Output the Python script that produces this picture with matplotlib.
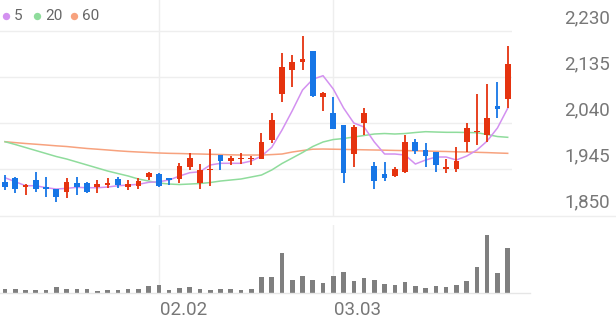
import numpy as np
import matplotlib.pyplot as plt
from matplotlib.lines import Line2D

# daily candles (open, high, low, close)
opens = [1919, 1927, 1908, 1922, 1907, 1904, 1898, 1917, 1917, 1908,
         1913, 1924, 1908, 1910, 1928, 1935, 1926, 1924, 1950, 1916,
         1943, 1974, 1962, 1965, 1965, 1965, 2005, 2100, 2150, 2165,
         2189, 2094, 2061, 2036, 1977, 2039, 1951, 1935, 1931, 1938,
         2001, 1984, 1980, 1946, 1945, 2000, 2021, 2015, 2076, 2089]
highs = [1933, 1929, 1915, 1939, 1929, 1904, 1926, 1929, 1919, 1922,
         1926, 1929, 1922, 1926, 1939, 1936, 1926, 1958, 1979, 1955,
         1986, 1974, 1972, 1979, 1972, 2020, 2060, 2184, 2180, 2220,
         2189, 2105, 2094, 2036, 2036, 2070, 1960, 1960, 1950, 2015,
         2006, 1998, 1980, 1965, 1990, 2039, 2100, 2120, 2124, 2199]
lows = [1902, 1895, 1891, 1898, 1888, 1877, 1885, 1891, 1895, 1895,
        1905, 1905, 1902, 1904, 1922, 1908, 1913, 1917, 1943, 1903,
        1910, 1943, 1953, 1955, 1953, 1965, 1999, 2084, 2115, 2150,
        2094, 2065, 2027, 1916, 1949, 2015, 1903, 1921, 1929, 1936,
        1976, 1949, 1939, 1936, 1939, 1981, 1995, 2001, 2050, 2070]
closes = [1908, 1904, 1912, 1904, 1904, 1888, 1919, 1908, 1898, 1914,
          1916, 1912, 1914, 1921, 1937, 1910, 1922, 1951, 1968, 1944,
          1946, 1962, 1967, 1967, 1968, 2001, 2046, 2155, 2165, 2172,
          2096, 2101, 2027, 1936, 2031, 2061, 1921, 1926, 1945, 2001,
          1982, 1972, 1953, 1950, 1962, 2030, 2024, 2051, 2069, 2161]

# moving averages
ma5 = [1927.0, 1918.8, 1910.5, 1910.5, 1906.4, 1903.7, 1905.1, 1907.2, 1906.4, 1906.4,
       1907.8, 1910.5, 1911.9, 1913.4, 1917.5, 1918.8, 1922.3, 1930.5, 1937.4, 1939.4,
       1953.3, 1956.8, 1956.8, 1956.8, 1961.5, 1971.8, 1989.8, 2025.5, 2065.4, 2108.1,
       2130.3, 2137.7, 2110.2, 2071.0, 2040.0, 2031.7, 2000.8, 1976.0, 1976.0, 1973.9,
       1955.3, 1963.6, 1969.8, 1969.8, 1963.6, 1971.8, 1984.2, 2002.8, 2029.7, 2070.4]
ma20 = [2001.4, 1995.6, 1989.4, 1983.2, 1977.0, 1970.8, 1965.7, 1959.5, 1953.3, 1947.1,
        1940.9, 1935.7, 1930.6, 1924.4, 1920.2, 1916.1, 1914.0, 1913.0, 1914.0, 1915.1,
        1917.1, 1920.2, 1922.3, 1924.4, 1928.5, 1932.6, 1943.0, 1956.4, 1967.7, 1979.1,
        1991.5, 2000.8, 2005.9, 2008.0, 2011.1, 2014.2, 2017.3, 2018.3, 2017.3, 2018.3,
        2020.4, 2022.1, 2021.4, 2020.8, 2020.8, 2020.4, 2020.0, 2016.3, 2012.1, 2010.5]
ma60 = [2001.4, 1999.5, 1997.7, 1996.2, 1994.6, 1992.9, 1991.5, 1989.4, 1987.4, 1985.9,
        1984.3, 1982.6, 1981.2, 1980.1, 1979.1, 1978.1, 1977.4, 1977.0, 1976.4, 1976.0,
        1975.4, 1975.0, 1974.3, 1973.9, 1973.9, 1973.9, 1974.8, 1976.0, 1980.1, 1983.2,
        1985.9, 1986.3, 1985.9, 1985.5, 1985.1, 1984.7, 1984.3, 1983.9, 1983.4, 1983.0,
        1982.6, 1982.2, 1981.6, 1981.2, 1980.5, 1980.1, 1979.5, 1978.9, 1978.1, 1977.4]

volumes = [43, 43, 33, 33, 27, 60, 40, 40, 40, 23,
           33, 33, 40, 43, 73, 77, 27, 50, 60, 43,
           27, 43, 43, 27, 43, 160, 160, 400, 133, 173,
           133, 100, 167, 210, 120, 150, 133, 90, 77, 110,
           70, 53, 70, 63, 77, 123, 257, 580, 197, 453]

price_ticks = [1850, 1945, 2040, 2135, 2230]
date_pos = [15, 32]
date_labels = ['02.02', '03.03']
ma_names = ['5', '20', '60']

UP = '#e5330f'
DOWN = '#1776e6'
MA_COLORS = ['#d391f0', '#8fdc9c', '#f7a27e']
GRID = '#eeeeee'
TXT = '#777777'

plt.rcParams['font.family'] = ['Roboto', 'DejaVu Sans']

W, H = 616, 321
fig = plt.figure(figsize=(W / 100, H / 100), dpi=100)

def fx(px):  # pixel x -> figure fraction
    return px / W

def fy(py):  # pixel y (from top) -> figure fraction
    return 1 - py / H

x = np.arange(len(closes))
xlim = (-0.49, 49.42)

ax = fig.add_axes([0, fy(216), fx(512), 216 / H])
axv = fig.add_axes([0, fy(293), fx(512), 68 / H])

for a in (ax, axv):
    a.set_xlim(xlim)
    for s in a.spines.values():
        s.set_visible(False)
    a.set_xticks([])
    a.set_yticks([])
    a.patch.set_alpha(0)

ax.set_ylim(1848, 2294)
axv.set_ylim(0, max(volumes) * 1.17)

# grid
for v in price_ticks[1:]:
    ax.axhline(v, color=GRID, lw=1, zorder=0)
for p in date_pos:
    ax.axvline(p, color=GRID, lw=1, zorder=0)
    axv.axvline(p, color=GRID, lw=1, zorder=0)
fig.add_artist(Line2D([0, 1], [fy(216), fy(216)], color=GRID, lw=1))
fig.add_artist(Line2D([0, fx(530)], [fy(293), fy(293)], color='#e6e6e6', lw=1))

# moving averages
for ma, c in zip([ma60, ma20, ma5], MA_COLORS[::-1]):
    ax.plot(x, ma, color=c, lw=1.1, zorder=2)

# candles
for i in x:
    o, h, l, c = opens[i], highs[i], lows[i], closes[i]
    col = UP if c >= o else DOWN
    ax.vlines(i, l, h, color=col, lw=1.3, zorder=3)
    ax.bar(i, max(abs(c - o), 2), bottom=min(o, c), width=0.56, color=col, zorder=4)

# volume
axv.bar(x, volumes, width=0.45, color='#7f7f7f', zorder=2)

# price labels on the right
for v in price_ticks:
    ax.annotate(f'{v:,}', xy=(610 / 512, v), xycoords=('axes fraction', 'data'),
                xytext=(0, 13), textcoords='offset pixels', ha='right', va='center',
                fontsize=13.5, color=TXT, annotation_clip=False)

# date labels
for p, lab in zip(date_pos, date_labels):
    axv.annotate(lab, xy=(p, 0), xycoords='data', xytext=(1, -17), textcoords='offset pixels',
                 ha='left', va='center', fontsize=13.5, color=TXT, annotation_clip=False)

# legend
lx = [6, 37, 74]
for px, name, c in zip(lx, ma_names, MA_COLORS):
    fig.add_artist(Line2D([fx(px)], [fy(15.5)], marker='o', markersize=5.3,
                          color=c, markeredgewidth=0, clip_on=False))
    fig.text(fx(px + 8), fy(15.5), name, ha='left', va='center', fontsize=11, color='#666666')

fig.savefig('out.png', dpi=100)
